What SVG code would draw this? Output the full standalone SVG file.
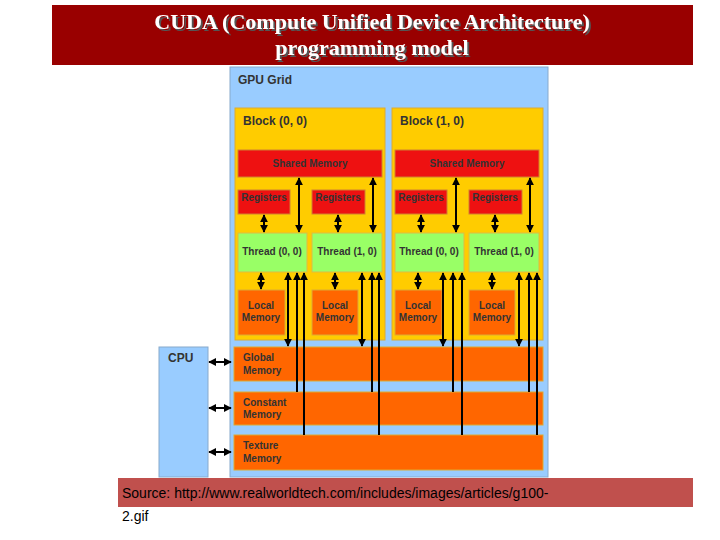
<svg xmlns="http://www.w3.org/2000/svg" width="720" height="540" viewBox="0 0 720 540">
<defs>
<marker id="a" viewBox="0 0 10 10" refX="9" refY="5" markerWidth="4" markerHeight="4" orient="auto-start-reverse"><path d="M0,0L10,5L0,10z" fill="#000"/></marker>
<filter id="sh" x="-5%" y="-20%" width="110%" height="140%"><feDropShadow dx="2" dy="2" stdDeviation="0" flood-color="#555"/></filter>
<style>
.t{font-family:"Liberation Sans",Arial,sans-serif;font-weight:bold;font-size:10px;fill:#333}
.h{font-size:12px}
.r{fill:#ee1111;stroke:#d08030}
.g{fill:#99ff66;stroke:#ddbb44}
.o{fill:#ff6600;stroke:#ddaa33}
line{stroke:#000;stroke-width:2}
.b{marker-start:url(#a);marker-end:url(#a)}
.u{marker-start:url(#a)}
</style>
</defs>
<rect width="720" height="540" fill="#fff"/>
<g id="title"><rect x="52" y="5" width="641" height="60" fill="#990000"/>
<g filter="url(#sh)" font-family="Liberation Serif,serif" font-weight="bold" font-size="22" text-anchor="middle" fill="#fff">
<text x="372" y="29">CUDA (Compute Unified Device Architecture)</text>
<text x="372" y="55">programming model</text></g></g>
<g id="grid"><rect x="230" y="67" width="318" height="410" fill="#99ccff" stroke="#88aacc"/><text class="t h" x="238" y="84">GPU Grid</text></g>
<g id="cpu"><rect x="159" y="347" width="49" height="130" fill="#99ccff" stroke="#88aacc"/><text class="t h" x="168" y="362">CPU</text></g>
<g id="block0"><rect x="235" y="108" width="150" height="232" fill="#ffcc00" stroke="#ddaa33"/><text class="t h" x="243" y="125">Block (0, 0)</text>
<rect class="r" x="238" y="150" width="144" height="27"/><text class="t" x="310" y="167" text-anchor="middle" font-weight="normal">Shared Memory</text>
<rect class="r" x="238" y="190" width="52" height="24"/><text class="t" x="264" y="201" text-anchor="middle" font-weight="normal">Registers</text>
<rect class="r" x="312" y="190" width="53" height="24"/><text class="t" x="338" y="201" text-anchor="middle" font-weight="normal">Registers</text>
<rect class="g" x="238" y="233" width="69" height="39"/><text class="t" x="272" y="255" text-anchor="middle">Thread (0, 0)</text>
<rect class="g" x="312" y="233" width="70" height="39"/><text class="t" x="347" y="255" text-anchor="middle">Thread (1, 0)</text>
<rect class="o" x="238" y="290" width="47" height="45"/><text class="t" x="261" y="309" text-anchor="middle">Local</text><text class="t" x="261" y="321" text-anchor="middle">Memory</text>
<rect class="o" x="312" y="290" width="46" height="45"/><text class="t" x="335" y="309" text-anchor="middle">Local</text><text class="t" x="335" y="321" text-anchor="middle">Memory</text></g>
<g id="block1"><rect x="392" y="108" width="151" height="232" fill="#ffcc00" stroke="#ddaa33"/><text class="t h" x="400" y="125">Block (1, 0)</text>
<rect class="r" x="395" y="150" width="144" height="27"/><text class="t" x="467" y="167" text-anchor="middle" font-weight="normal">Shared Memory</text>
<rect class="r" x="395" y="190" width="52" height="24"/><text class="t" x="421" y="201" text-anchor="middle" font-weight="normal">Registers</text>
<rect class="r" x="469" y="190" width="53" height="24"/><text class="t" x="495" y="201" text-anchor="middle" font-weight="normal">Registers</text>
<rect class="g" x="395" y="233" width="69" height="39"/><text class="t" x="429" y="255" text-anchor="middle">Thread (0, 0)</text>
<rect class="g" x="469" y="233" width="70" height="39"/><text class="t" x="504" y="255" text-anchor="middle">Thread (1, 0)</text>
<rect class="o" x="395" y="290" width="47" height="45"/><text class="t" x="418" y="309" text-anchor="middle">Local</text><text class="t" x="418" y="321" text-anchor="middle">Memory</text>
<rect class="o" x="469" y="290" width="46" height="45"/><text class="t" x="492" y="309" text-anchor="middle">Local</text><text class="t" x="492" y="321" text-anchor="middle">Memory</text></g>
<g id="global"><rect class="o" x="234" y="347" width="309" height="34"/><text class="t" x="243" y="361">Global</text><text class="t" x="243" y="374">Memory</text></g>
<g id="constant"><rect class="o" x="234" y="392" width="309" height="33"/><text class="t" x="243" y="406">Constant</text><text class="t" x="243" y="418">Memory</text></g>
<g id="texture"><rect class="o" x="234" y="435" width="309" height="35"/><text class="t" x="243" y="449">Texture</text><text class="t" x="243" y="462">Memory</text></g>
<g id="connectors">
<line class="b" x1="209" y1="362" x2="231" y2="362"/><line class="b" x1="209" y1="408" x2="231" y2="408"/><line class="b" x1="209" y1="452" x2="231" y2="452"/>
<line class="b" x1="299" y1="178" x2="299" y2="232"/><line class="b" x1="373" y1="178" x2="373" y2="232"/><line class="b" x1="456" y1="178" x2="456" y2="232"/><line class="b" x1="530" y1="178" x2="530" y2="232"/>
<line class="b" x1="264" y1="215" x2="264" y2="232"/><line class="b" x1="338" y1="215" x2="338" y2="232"/><line class="b" x1="421" y1="215" x2="421" y2="232"/><line class="b" x1="495" y1="215" x2="495" y2="232"/>
<line class="b" x1="261" y1="273" x2="261" y2="289"/><line class="b" x1="335" y1="273" x2="335" y2="289"/><line class="b" x1="418" y1="273" x2="418" y2="289"/><line class="b" x1="492" y1="273" x2="492" y2="289"/>
<line class="b" x1="288" y1="273" x2="288" y2="346"/><line class="b" x1="362" y1="273" x2="362" y2="346"/><line class="b" x1="443" y1="273" x2="443" y2="346"/><line class="b" x1="519" y1="273" x2="519" y2="346"/>
<line class="u" x1="297" y1="273" x2="297" y2="392"/><line class="u" x1="372" y1="273" x2="372" y2="392"/><line class="u" x1="453" y1="273" x2="453" y2="392"/><line class="u" x1="529" y1="273" x2="529" y2="392"/>
<line class="u" x1="304" y1="273" x2="304" y2="435"/><line class="u" x1="379" y1="273" x2="379" y2="435"/><line class="u" x1="462" y1="273" x2="462" y2="435"/><line class="u" x1="537" y1="273" x2="537" y2="435"/>
</g>
<g id="source"><rect x="118" y="478" width="575" height="29" fill="#c0504d"/>
<text font-family="Liberation Sans,Arial,sans-serif" font-size="14" fill="#000" x="122" y="498">Source: http://www.realworldtech.com/includes/images/articles/g100-</text>
<text font-family="Liberation Sans,Arial,sans-serif" font-size="14" fill="#000" x="122" y="521">2.gif</text></g>
</svg>
